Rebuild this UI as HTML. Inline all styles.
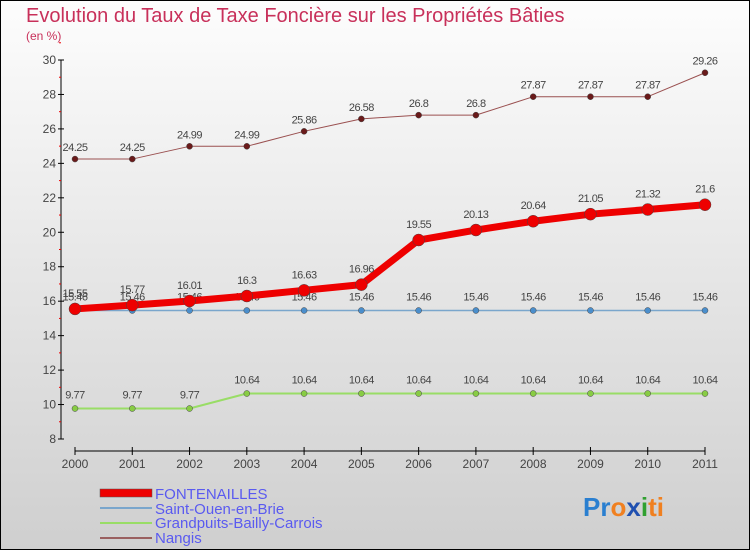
<!DOCTYPE html>
<html><head><meta charset="utf-8"><style>
body{margin:0;width:750px;height:550px;overflow:hidden;font-family:"Liberation Sans",sans-serif}
svg{display:block}
</style></head><body>
<svg id="c" width="750" height="550" xmlns="http://www.w3.org/2000/svg">
<defs><linearGradient id="bg" x1="0" y1="0" x2="0" y2="1"><stop offset="0" stop-color="#fdfdfd"/><stop offset="1" stop-color="#cfcfcf"/></linearGradient></defs>
<rect x="0.5" y="0.5" width="749" height="549" fill="url(#bg)" stroke="#000"/>
<text x="26" y="22" font-size="20" fill="#c8305a">Evolution du Taux de Taxe Foncière sur les Propriétés Bâties</text>
<text x="26" y="40" font-size="12" fill="#c8305a">(en %)</text>
<g id="axes"></g><g id="series"></g>
<g>
<rect x="100" y="489" width="52" height="8" fill="#e00" stroke="#555" stroke-width="0.5"/>
<text x="155" y="499" font-size="15" fill="#5a5af0">FONTENAILLES</text>
<rect x="100" y="507" width="52" height="2" fill="#7aa6cc"/>
<text x="155" y="514" font-size="15" fill="#5a5af0">Saint-Ouen-en-Brie</text>
<rect x="100" y="522" width="52" height="2" fill="#99dd66"/>
<text x="155" y="528" font-size="15" fill="#5a5af0">Grandpuits-Bailly-Carrois</text>
<rect x="100" y="537" width="52" height="2" fill="#9a6060"/>
<text x="155" y="543" font-size="15" fill="#5a5af0">Nangis</text>
</g>
<text x="583" y="516" font-size="26" font-weight="bold"><tspan fill="#2a7fd0">Pr</tspan><tspan fill="#f08020">o</tspan><tspan fill="#2050b0">x</tspan><tspan fill="#30a030">i</tspan><tspan fill="#f08020">ti</tspan></text>
</svg>
<script>
const years=[2000,2001,2002,2003,2004,2005,2006,2007,2008,2009,2010,2011];
const yTicks=[8,10,12,14,16,18,20,22,24,26,28,30];
const fontenailles=[15.55,15.77,16.01,16.3,16.63,16.96,19.55,20.13,20.64,21.05,21.32,21.6];
const saintOuen=[15.46,15.46,15.46,15.46,15.46,15.46,15.46,15.46,15.46,15.46,15.46,15.46];
const grandpuits=[9.77,9.77,9.77,10.64,10.64,10.64,10.64,10.64,10.64,10.64,10.64,10.64];
const nangis=[24.25,24.25,24.99,24.99,25.86,26.58,26.8,26.8,27.87,27.87,27.87,29.26];
const NS="http://www.w3.org/2000/svg";
const X=i=>75+i*(630/(years.length-1));
const Y=v=>439-(v-8)*(379/22);
function mk(tag,attrs,parent){const e=document.createElementNS(NS,tag);for(const k in attrs)e.setAttribute(k,attrs[k]);parent.appendChild(e);return e;}
const ax=document.getElementById('axes');
let yl=mk('line',{x1:61,y1:Y(30),x2:61,y2:Y(8),stroke:'#000'},ax);


yTicks.forEach(v=>{
 mk('line',{x1:58,x2:64,y1:Y(v),y2:Y(v),stroke:'#000'},ax);
 mk('line',{x1:59,x2:61,y1:Y(v+1),y2:Y(v+1),stroke:'#e00'},ax);
 const t=mk('text',{x:56,y:Y(v)+4,'font-size':12,fill:'#444','text-anchor':'end'},ax);
 t.textContent=v;
 
 
});
let xl=mk('line',{x1:X(0),y1:451,x2:X(11),y2:451,stroke:'#000'},ax);


years.forEach((y,i)=>{
 mk('line',{x1:X(i),x2:X(i),y1:447,y2:455,stroke:'#000'},ax);
 const t=mk('text',{x:X(i),y:468,'font-size':12,fill:'#444','text-anchor':'middle'},ax);
 t.textContent=y;
 
 
});
const sg=document.getElementById('series');
function draw(name,vals,color,w,r,dot,labelDy){
 const g=mk('g',{},sg);
 
 
 const p=mk('polyline',{points:vals.map((v,i)=>X(i)+','+Y(v)).join(' '),fill:'none',stroke:color,'stroke-width':w,'stroke-linejoin':'round'},g);
 
 
 vals.forEach((v,i)=>{
  const c=mk('circle',{cx:X(i),cy:Y(v),r:r,fill:dot,stroke:'#444','stroke-width':0.5},g);
  
  
  const t=mk('text',{x:X(i),y:Y(v)+labelDy,'font-size':11,fill:'#444','text-anchor':'middle','letter-spacing':'-0.5'},g);
  t.textContent=v;
  
  
 });
}
draw('nangis',nangis,'#9a5050',1,3,'#6a1a1a',-8);
draw('grandpuits',grandpuits,'#99dd66',2,3,'#88cc44',-10);
draw('saint-ouen',saintOuen,'#7aa6cc',1.5,3,'#4a8ecc',-10);
draw('fontenailles',fontenailles,'#ee0000',7,6,'#ee0000',-12);
</script>
</body></html>
